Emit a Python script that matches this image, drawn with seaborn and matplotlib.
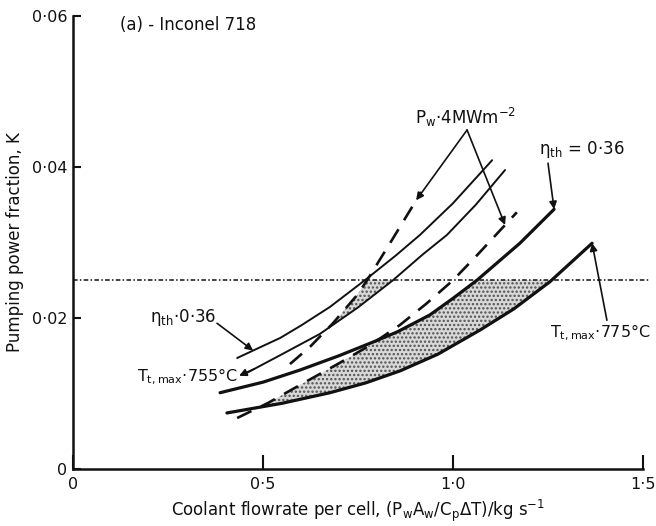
import numpy as np
import matplotlib
matplotlib.use("Agg")
import matplotlib.pyplot as plt
import seaborn as sns

# --- thin solid set: eta_th = 0.36 and T_t,max = 755 C ---
eta_a_x = [0.432, 0.50, 0.545, 0.60, 0.676, 0.768, 0.85, 0.913, 1.0, 1.103]
eta_a_y = [0.0147, 0.0163, 0.01735, 0.0190, 0.02146, 0.0250, 0.0283, 0.0310, 0.0352, 0.0409]
t755_x = [0.447, 0.55, 0.65, 0.75, 0.842, 0.92, 0.984, 1.06, 1.137]
t755_y = [0.01245, 0.0152, 0.0179, 0.0214, 0.0250, 0.0284, 0.0310, 0.0350, 0.0396]
# dashed curve for Pw = 4 MW m^-2 (upper pair)
pw_a_x = [0.571, 0.624, 0.684, 0.747, 0.774, 0.839, 0.908, 0.916]
pw_a_y = [0.0139, 0.0162, 0.0193, 0.0230, 0.0250, 0.0303, 0.0360, 0.0367]

# --- thick solid set: eta_th = 0.36 and T_t,max = 775 C ---
eta_b_x = [0.387, 0.50, 0.597, 0.70, 0.789, 0.853, 0.939, 1.0, 1.063, 1.176, 1.266]
eta_b_y = [0.0101, 0.0115, 0.0131, 0.0150, 0.0168, 0.01815, 0.0204, 0.0226, 0.0250, 0.0299, 0.0344]
t775_x = [0.405, 0.55, 0.676, 0.77, 0.861, 0.96, 1.071, 1.16, 1.255, 1.366]
t775_y = [0.00742, 0.0087, 0.0101, 0.0114, 0.0130, 0.0152, 0.0184, 0.0212, 0.0248, 0.0299]
# dashed curve for Pw = 4 MW m^-2 (lower pair)
pw_b_x = [0.432, 0.513, 0.60, 0.70, 0.782, 0.861, 0.93, 1.0, 1.063, 1.168]
pw_b_y = [0.00675, 0.00874, 0.0112, 0.0140, 0.0164, 0.0191, 0.0219, 0.0250, 0.0283, 0.0340]

K_LIMIT = 0.025

x_ticks = [0, 0.5, 1.0, 1.5]
x_tick_labels = ["0", "0·5", "1·0", "1·5"]
y_ticks = [0, 0.02, 0.04, 0.06]
y_tick_labels = ["0", "0·02", "0·04", "0·06"]

sns.set_theme(style="ticks")
plt.rcParams["font.family"] = ["DejaVu Sans"]
plt.rcParams["mathtext.fontset"] = "dejavusans"
plt.rcParams["hatch.linewidth"] = 1.1

fig = plt.figure(figsize=(6.56, 5.26), dpi=100)
ax = fig.add_axes([0.1113, 0.1084, 0.8689, 0.8612])

ink = "#111111"


def interp(xs, ys, grid, right=np.nan):
    return np.interp(grid, xs, ys, left=np.nan, right=right)


# stippled operating windows below the pumping-power limit
grid = np.linspace(0.38, 1.40, 800)
stipple = dict(facecolor="#d8d8d8", hatch="....", edgecolor="#505050", linewidth=0, zorder=1)

lower = interp(t775_x, t775_y, grid)
upper = np.minimum(np.minimum(interp(eta_b_x, eta_b_y, grid),
                              interp(pw_b_x, pw_b_y, grid, right=np.inf)), K_LIMIT)
ok = np.isfinite(lower) & np.isfinite(upper) & (upper > lower)
ax.fill_between(grid, lower, np.where(ok, upper, lower), where=ok, **stipple)

lower2 = interp(t755_x, t755_y, grid)
upper2 = np.minimum(interp(pw_a_x, pw_a_y, grid, right=np.inf), K_LIMIT)
ok2 = np.isfinite(lower2) & np.isfinite(upper2) & (upper2 > lower2)
ax.fill_between(grid, lower2, np.where(ok2, upper2, lower2), where=ok2, **stipple)

# curves
thin = dict(color=ink, linewidth=1.4, estimator=None, sort=False, ax=ax)
thick = dict(color=ink, linewidth=2.3, estimator=None, sort=False, ax=ax)
sns.lineplot(x=eta_a_x, y=eta_a_y, **thin)
sns.lineplot(x=t755_x, y=t755_y, **thin)
sns.lineplot(x=eta_b_x, y=eta_b_y, **thick)
sns.lineplot(x=t775_x, y=t775_y, **thick)
dashed = dict(color=ink, linewidth=1.9, estimator=None, sort=False, ax=ax)
l1 = sns.lineplot(x=pw_a_x, y=pw_a_y, **dashed).lines[-1]
l1.set_dashes((6, 4))
l2 = sns.lineplot(x=pw_b_x, y=pw_b_y, **dashed).lines[-1]
l2.set_dashes((6, 4))

# pumping power limit
ax.plot([0, 1.515], [K_LIMIT, K_LIMIT], color=ink, linewidth=1.1,
        linestyle=(0, (3, 1.5, 1, 1.5)), clip_on=False, zorder=2)

# axes
ax.set_xlim(0, 1.5)
ax.set_ylim(0, 0.06)
ax.set_xticks(x_ticks)
ax.set_xticklabels(x_tick_labels)
ax.set_yticks(y_ticks)
ax.set_yticklabels(y_tick_labels)
sns.despine(ax=ax)
for side in ("left", "bottom"):
    ax.spines[side].set_linewidth(1.8)
    ax.spines[side].set_color(ink)
ax.tick_params(axis="x", direction="in", length=10, width=1.5, colors=ink,
               labelsize=11.5, pad=6)
ax.tick_params(axis="y", direction="in", length=6, width=1.5, colors=ink,
               labelsize=11.5, pad=4)
ax.set_xlabel("Coolant flowrate per cell, (P$_\\mathrm{w}$A$_\\mathrm{w}$/C$_\\mathrm{p}$ΔT)/kg s$^{-1}$",
              fontsize=12, color=ink, labelpad=4)
ax.set_ylabel("Pumping power fraction, K", fontsize=12, color=ink, labelpad=6)
ax.set_facecolor("white")

ax.text(0.124, 0.0588, "(a) - Inconel 718", fontsize=12, color=ink, va="center", ha="left")

arrow = dict(arrowstyle="-|>", color=ink, lw=1.2, mutation_scale=11, shrinkA=0, shrinkB=0)

# Pw = 4 MW m^-2 label with two pointers
ax.text(1.034, 0.0465, "P$_\\mathrm{w}$·4MWm$^{-2}$", fontsize=12, color=ink, ha="center", va="center")
for xs, ys, xt in ((pw_a_x, pw_a_y, 0.903), (pw_b_x, pw_b_y, 1.137)):
    ax.annotate("", xy=(xt, float(np.interp(xt, xs, ys))), xytext=(1.037, 0.0449),
                arrowprops=arrow)

# eta_th labels
ax.text(1.34, 0.0423, "η$_\\mathrm{th}$ = 0·36", fontsize=12, color=ink, ha="center", va="center")
ax.annotate("", xy=(eta_b_x[-1], eta_b_y[-1]), xytext=(1.25, 0.0405), arrowprops=arrow)

ax.text(0.289, 0.0200, "η$_\\mathrm{th}$·0·36", fontsize=12, color=ink, ha="center", va="center")
ax.annotate("", xy=(0.474, float(np.interp(0.474, eta_a_x, eta_a_y))), xytext=(0.379, 0.0193),
            arrowprops=arrow)

# temperature labels
ax.text(0.435, 0.0122, "T$_\\mathrm{t,max}$·755°C", fontsize=11.5, color=ink, ha="right", va="center")
ax.annotate("", xy=(t755_x[0] - 0.01, t755_y[0] - 0.0001),
            xytext=(t755_x[0] + 0.03, float(np.interp(t755_x[0] + 0.03, t755_x, t755_y))),
            arrowprops=arrow)

ax.text(1.387, 0.0180, "T$_\\mathrm{t,max}$·775°C", fontsize=11.5, color=ink, ha="center", va="center")
ax.annotate("", xy=(t775_x[-1], t775_y[-1]), xytext=(1.405, 0.0197), arrowprops=arrow)

fig.savefig("out.png", dpi=100, facecolor="white")
